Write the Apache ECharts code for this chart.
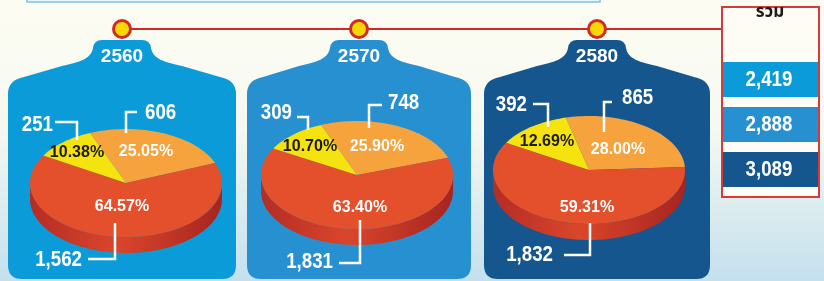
<!DOCTYPE html>
<html>
<head>
<meta charset="utf-8">
<script src="https://cdn.jsdelivr.net/npm/echarts@6/dist/echarts.min.js"></script>
<style>
  html, body { margin: 0; padding: 0; }
  #chart { width: 824px; height: 281px; }
</style>
</head>
<body>
<div id="chart"></div>
<script>
// data
const years = ['2560', '2570', '2580']
const orangeValues = [606, 748, 865]
const redValues = [1562, 1831, 1832]
const yellowValues = [251, 309, 392]
const totalLabel = 'รวม'

const sliceColors = ['#f6a23d', '#e3502b', '#f5e30f']
const panelColors = ['#0b9bd9', '#2790d0', '#15568f']
const NUM_FONT = 'bold 22px "Liberation Sans", Arial, sans-serif'
const NUM_SCALE = 0.85
const PCT_FONT = 'bold 16px "Liberation Sans", Arial, sans-serif'

// layout of each pie: center, start angle, label offsets (orange, red, yellow)
const layout = [
  {
    cx: 126, cy: 183, start: 112,
    pct: [[20, -31], [-4, 24], [-49, -30]],
    val: [[19, -70, 'left'], [-44, 77, 'right'], [-73, -58, 'right']],
    lead: [[[11, -71], [0, -71], [0, -50]], [[-38, 76], [-11, 76], [-11, 40]], [[-71, -61], [-49, -61], [-49, -43]]]
  },
  {
    cx: 357, cy: 175, start: 112,
    pct: [[20, -28], [3, 33], [-47, -28]],
    val: [[31, -72, 'left'], [-24, 87, 'right'], [-65, -62, 'right']],
    lead: [[[25, -70], [12, -70], [12, -47]], [[-18, 88], [3, 88], [3, 45]], [[-60, -58], [-49, -58], [-49, -45]]]
  },
  {
    cx: 589, cy: 170, start: 104,
    pct: [[29, -20], [-2, 38], [-42, -28]],
    val: [[33, -72, 'left'], [-36, 85, 'right'], [-62, -65, 'right']],
    lead: [[[23, -68], [15, -68], [15, -38]], [[-25, 85], [1, 85], [1, 53]], [[-56, -66], [-41, -66], [-41, -43]]]
  }
]
const RX = 96, RY = 54, DEPTH = 16

function fmt(n) {
  return n.toLocaleString('en-US')
}

function pieValues(p) {
  return [orangeValues[p], redValues[p], yellowValues[p]]
}

function arcPoints(cx, cy, a0, a1) {
  const pts = []
  const steps = Math.max(2, Math.ceil(Math.abs(a1 - a0) / 2))
  for (let i = 0; i <= steps; i++) {
    const a = (a0 + (a1 - a0) * i / steps) * Math.PI / 180
    pts.push([cx + RX * Math.cos(a), cy - RY * Math.sin(a)])
  }
  return pts
}

function renderSlice(params, api) {
  const p = params.seriesIndex - 1
  const k = params.dataIndex
  const L = layout[p]
  const vals = pieValues(p)
  const total = vals.reduce((s, v) => s + v, 0)
  let cum = 0
  for (let i = 0; i < k; i++) cum += vals[i]
  const v = api.value(0)
  const a0 = L.start - cum / total * 360
  const a1 = a0 - v / total * 360
  const children = []

  // visible side (front half) of the slice
  for (let m = -1; m <= 0; m++) {
    const lo = Math.max(a1, -180 + 360 * m)
    const hi = Math.min(a0, 360 * m)
    if (hi > lo) {
      const top = arcPoints(L.cx, L.cy, lo, hi)
      const bottom = arcPoints(L.cx, L.cy + DEPTH, hi, lo)
      children.push({
        type: 'polygon',
        z2: 1,
        shape: { points: top.concat(bottom) },
        style: {
          fill: new echarts.graphic.LinearGradient(0, 0, 1, 0, [
            { offset: 0, color: '#b52c25' },
            { offset: 0.45, color: '#d9462b' },
            { offset: 1, color: '#a72420' }
          ])
        }
      })
    }
  }

  // top face
  children.push({
    type: 'polygon',
    z2: 5,
    shape: { points: [[L.cx, L.cy]].concat(arcPoints(L.cx, L.cy, a0, a1)) },
    style: { fill: sliceColors[k] }
  })

  // percentage
  children.push({
    type: 'text',
    z2: 10,
    x: L.cx + L.pct[k][0],
    y: L.cy + L.pct[k][1],
    style: {
      text: (v / total * 100).toFixed(2) + '%',
      fill: k === 2 ? '#1e1a10' : '#ffffff',
      font: PCT_FONT,
      align: 'center',
      verticalAlign: 'middle'
    }
  })

  // value with bracket leader
  children.push({
    type: 'polyline',
    z2: 10,
    shape: { points: L.lead[k].map(pt => [L.cx + pt[0], L.cy + pt[1]]) },
    style: { stroke: '#ffffff', lineWidth: 2.5, fill: null }
  })
  children.push({
    type: 'text',
    z2: 10,
    x: L.cx + L.val[k][0],
    y: L.cy + L.val[k][1],
    scaleX: NUM_SCALE,
    style: {
      text: fmt(v),
      fill: '#ffffff',
      font: NUM_FONT,
      align: L.val[k][2],
      verticalAlign: 'middle'
    }
  })

  return { type: 'group', children: children }
}

function tagPath(C, W, T, B) {
  return [
    'M', C - 20, T, 'L', C + 20, T,
    'Q', C + 28, T, C + 29, T + 8,
    'C', C + 31, T + 19, C + 42, T + 22, C + 60, T + 26,
    'L', C + W - 16, T + 37,
    'Q', C + W, T + 40, C + W, T + 54,
    'L', C + W, B - 14,
    'Q', C + W, B, C + W - 14, B,
    'L', C - W + 14, B,
    'Q', C - W, B, C - W, B - 14,
    'L', C - W, T + 54,
    'Q', C - W, T + 40, C - W + 16, T + 37,
    'L', C - 60, T + 26,
    'C', C - 42, T + 22, C - 31, T + 19, C - 29, T + 8,
    'Q', C - 28, T, C - 20, T, 'Z'
  ].join(' ')
}

const panelX = [122, 359, 597]
const panelW = [114, 112, 113]
const rowY = [62, 107, 152]

function renderPanel(params, api) {
  const i = params.dataIndex
  return {
    type: 'group',
    children: [
      {
        type: 'path',
        shape: { pathData: tagPath(panelX[i], panelW[i], 40, 279) },
        style: { fill: panelColors[i] }
      },
      {
        type: 'text',
        z2: 5,
        x: panelX[i], y: 57,
        style: {
          text: years[i], fill: '#ffffff',
          font: 'bold 19px "Liberation Sans", Arial, sans-serif',
          align: 'center', verticalAlign: 'middle'
        }
      }
    ]
  }
}

const graphics = [
  {
    type: 'rect', silent: true, z: -10,
    shape: { x: 0, y: 0, width: 824, height: 281 },
    style: {
      fill: new echarts.graphic.LinearGradient(0, 0, 0, 1, [
        { offset: 0, color: '#fcfcf2' },
        { offset: 0.45, color: '#f7f9f1' },
        { offset: 1, color: '#c4e0ee' }
      ])
    }
  },
  {
    type: 'rect',
    shape: { x: 27, y: -6, width: 573, height: 8 },
    style: { fill: '#eaf5fb', stroke: '#7ec1ea', lineWidth: 1.5 }
  },
  {
    type: 'line',
    shape: { x1: panelX[0], y1: 29, x2: 722, y2: 29 },
    style: { stroke: '#d2282a', lineWidth: 2 }
  },
  {
    type: 'rect',
    shape: { x: 722, y: 7, width: 97, height: 190 },
    style: { fill: '#fdfdf5', stroke: '#d73a3a', lineWidth: 2 }
  },
  {
    type: 'text',
    x: 770, y: 14,
    style: {
      text: totalLabel, fill: '#1a1a1a',
      font: 'bold 17px "Noto Sans Thai", "Noto Sans", "DejaVu Sans", sans-serif',
      align: 'center', verticalAlign: 'middle'
    }
  }
]

years.forEach((yr, i) => {
  graphics.push({
    type: 'circle',
    shape: { cx: panelX[i], cy: 29, r: 8.5 },
    style: { fill: '#f8d800', stroke: '#cf2a25', lineWidth: 3 }
  })
  const total = pieValues(i).reduce((s, v) => s + v, 0)
  graphics.push({
    type: 'rect',
    shape: { x: 723, y: rowY[i], width: 95, height: 35 },
    style: { fill: panelColors[i] }
  })
  graphics.push({
    type: 'text',
    x: 769, y: rowY[i] + 18,
    scaleX: NUM_SCALE,
    style: {
      text: fmt(total), fill: '#ffffff', font: NUM_FONT,
      align: 'center', verticalAlign: 'middle'
    }
  })
})

const chart = echarts.init(document.getElementById('chart'))
chart.setOption({
  animation: false,
  graphic: { elements: graphics },
  series: [{
    type: 'custom',
    name: 'panels',
    coordinateSystem: 'none',
    z: 1,
    renderItem: renderPanel,
    data: years.map((yr, i) => [i])
  }].concat(years.map((yr, i) => ({
    type: 'custom',
    name: yr,
    coordinateSystem: 'none',
    z: 3,
    renderItem: renderSlice,
    data: pieValues(i).map(v => [v])
  })))
})
</script>
</body>
</html>
